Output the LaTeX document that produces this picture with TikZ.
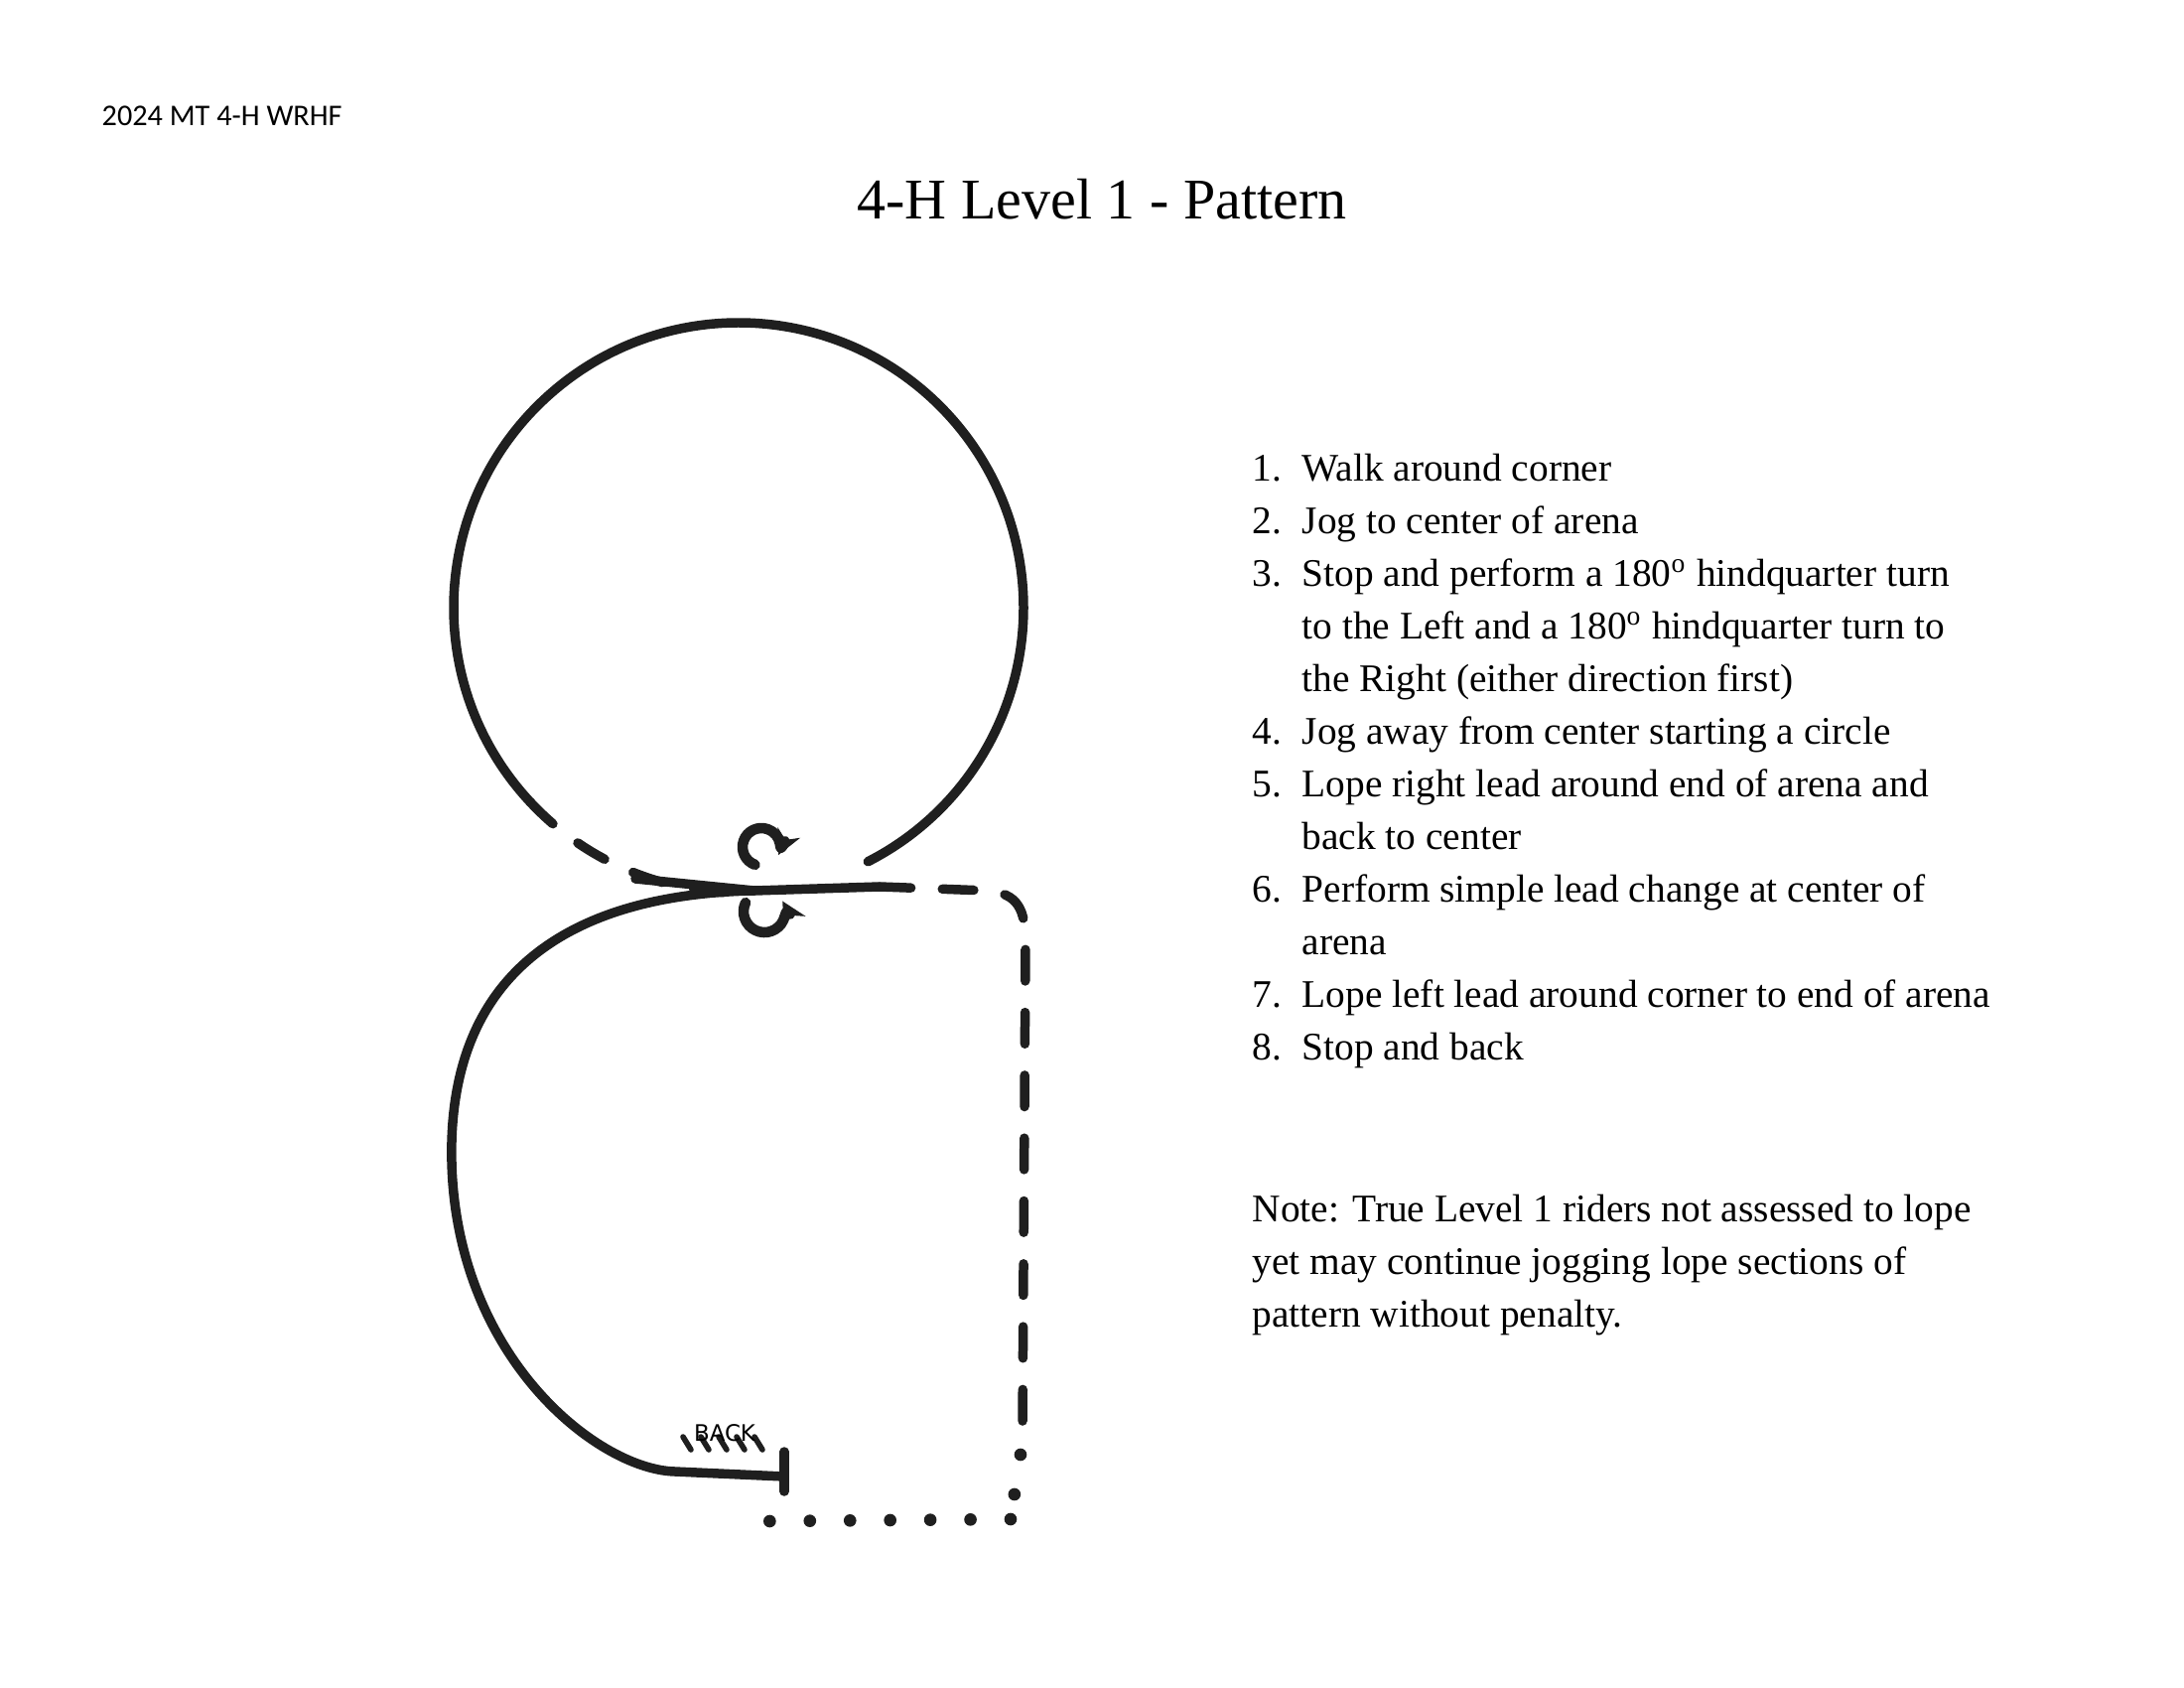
\documentclass[tikz,border=0pt]{standalone}
\usepackage{fontspec}
\setmainfont{Liberation Serif}
\newfontfamily\hdr{Carlito}
\newfontfamily\hand{DejaVu Sans}
\usetikzlibrary{arrows.meta}
\begin{document}
\begin{tikzpicture}[x=0.01cm,y=-0.01cm,
  pen/.style={line width=2.7pt,line cap=round,line join=round,color=black!88},
  dsh/.style={pen,dash pattern=on 9pt off 9pt},
  dots/.style={pen,line width=3.6pt,dash pattern=on 0pt off 11.5pt},
  item/.style={anchor=base west,font=\fontsize{11.2}{13}\selectfont,inner sep=0pt},
  turn/.style={pen,line width=3pt,-{Stealth[length=7pt,width=7pt]}}]
\useasboundingbox (0,0) rectangle (2200,1700);
\node[anchor=base west,inner sep=0pt,font=\hdr\fontsize{8.6}{10}\selectfont] (hdr) at (102,127) {2024 MT 4-H WRHF};
\node[anchor=base,inner sep=0pt,font=\fontsize{16.5}{20}\selectfont] (title) at (1110,221) {4-H Level 1 - Pattern};
% list
\foreach \n/\y/\t in {1./484/Walk around corner, 2./537/Jog to center of arena,
 3./590/Stop and perform a 180\textsuperscript{o} hindquarter turn,
 4./749/Jog away from center starting a circle,
 5./802/Lope right lead around end of arena and,
 6./908/Perform simple lead change at center of,
 7./1014/Lope left lead around corner to end of arena,
 8./1067/Stop and back}
 {\node[item] (n\y) at (1261,\y) {\n}; \node[item] (t\y) at (1311,\y) {\t};}
\node[item] (c1) at (1311,643) {to the Left and a 180\textsuperscript{o} hindquarter turn to};
\node[item] (c2) at (1311,696) {the Right (either direction first)};
\node[item] (c3) at (1311,855) {back to center};
\node[item] (c4) at (1311,961) {arena};
\node[item] (m1) at (1261,1230) {Note: True Level 1 riders not assessed to lope};
\node[item] (m2) at (1261,1283) {yet may continue jogging lope sections of};
\node[item] (m3) at (1261,1336) {pattern without penalty.};
% top circle
\draw[pen] (744,612) ++(137:287) arc[start angle=137,end angle=423,radius=287];
\draw[dsh] (744,612) ++(137:287) arc[start angle=137,end angle=93,radius=287];
% horizontal line through center
\draw[pen] (640,885) -- (760,897) -- (886,893);
% bottom curve
\draw[pen] (760,897) .. controls (600,900) and (460,960) .. (455,1150)
  .. controls (450,1360) and (600,1480) .. (680,1482) -- (790,1487);
\draw[pen] (790,1462) -- (790,1502);
\foreach \i in {0,...,4} \draw[pen,line width=1.6pt] (688+\i*18,1447) -- (696+\i*18,1460);
\node[inner sep=0pt,font=\hand\fontsize{6.5}{7}\selectfont] (back) at (730,1443) {BACK};
% dashed return
\draw[dsh] (886,893) -- (995,897) .. controls (1025,900) and (1033,915) .. (1033,950) -- (1030,1440);
\draw[dots] (1028,1465) -- (1018,1530);
\draw[dots] (1018,1530) -- (775,1532);
% turn symbols
\draw[turn] (767,853) ++(110:19) arc[start angle=110,end angle=385,radius=19];
\draw[turn] (770,918) ++(205:21) arc[start angle=205,end angle=-30,radius=21];
\end{tikzpicture}
\end{document}
